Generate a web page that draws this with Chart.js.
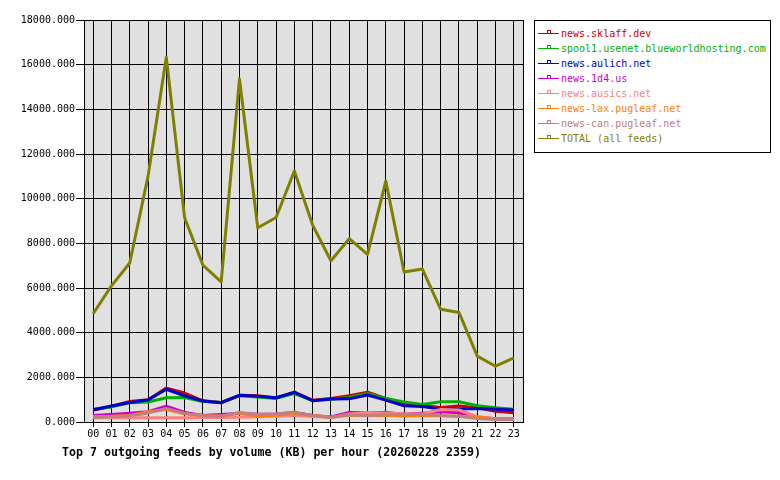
<!DOCTYPE html>
<html>
<head>
<meta charset="utf-8">
<script src="https://cdn.jsdelivr.net/npm/chart.js@4/dist/chart.umd.min.js"></script>
<style>
  html, body { margin: 0; padding: 0; background: #ffffff; }
  #wrap { position: relative; width: 780px; height: 480px; }
  #c { position: absolute; left: 0; top: 0; }
  #legend { position: absolute; left: 534px; top: 20px; width: 235px; height: 131px;
            border: 1px solid #000; background: #fff; font-family: "DejaVu Sans Mono", monospace; font-size: 10px; }
  .item { position: absolute; left: 0; height: 15px; width: 235px; }
  .ln { position: absolute; left: 3px; width: 21px; top: 7px; height: 0; border-top: 1px solid; }
  .mk { position: absolute; left: 12px; top: 4px; width: 2px; height: 2px; border: 1px solid; }
  .tx { position: absolute; left: 26px; top: 1px; line-height: 13px; white-space: nowrap; }
</style>
</head>
<body>
<div id="wrap">
  <canvas id="c" width="780" height="480"></canvas>
  <div id="legend"></div>
</div>
<script>
const hours = ["00","01","02","03","04","05","06","07","08","09","10","11","12","13","14","15","16","17","18","19","20","21","22","23"];
const seriesNames = ["news.sklaff.dev","spool1.usenet.blueworldhosting.com","news.aulich.net","news.1d4.us","news.ausics.net","news-lax.pugleaf.net","news-can.pugleaf.net","TOTAL (all feeds)"];
const sklaff = [540,700,920,1000,1520,1300,950,880,1200,1180,1080,1340,980,1060,1180,1340,1060,800,740,650,720,640,480,420];
const spool1 = [580,680,860,900,1090,1100,920,880,1180,1120,1060,1280,960,1020,1100,1280,1060,900,790,910,910,730,640,570];
const aulich = [550,716,880,985,1470,1180,940,865,1200,1160,1090,1330,955,1030,1040,1210,985,730,700,580,580,610,570,540];
const d14us = [290,340,390,460,716,430,290,340,400,350,360,430,300,230,430,420,430,350,400,460,420,200,150,150];
const ausics = [190,190,190,190,190,190,200,200,220,240,260,300,250,200,360,430,400,370,360,560,540,240,150,140];
const lax = [255,260,300,460,560,370,280,260,400,269,300,372,290,220,300,300,310,270,300,280,260,240,150,150];
const can = [210,240,280,400,612,390,283,269,433,343,358,433,298,210,330,283,330,343,343,300,260,164,119,120];
const total = [4850,6100,7120,11000,16330,9150,7030,6280,15360,8700,9160,11240,8820,7220,8210,7510,10790,6720,6850,5050,4910,2950,2500,2870];
const yTicks = [0,2000,4000,6000,8000,10000,12000,14000,16000,18000];
const titleText = "Top 7 outgoing feeds by volume (KB) per hour (20260228 2359)";

const colors = ["#cc0000","#00b000","#0000cc","#cc00cc","#ff8080","#ff8000","#c08080","#808000"];
const values = [sklaff, spool1, aulich, d14us, ausics, lax, can, total];

const mono = "'DejaVu Sans Mono', monospace";

const plotBg = {
  id: 'plotBg',
  beforeDraw(chart) {
    const {ctx, chartArea: a} = chart;
    ctx.save();
    ctx.fillStyle = '#e0e0e0';
    ctx.fillRect(a.left, a.top, a.right - a.left, a.bottom - a.top);
    ctx.restore();
  },
  afterDatasetsDraw(chart) {
    const {ctx, chartArea: a} = chart;
    ctx.save();
    ctx.strokeStyle = '#000';
    ctx.lineWidth = 1;
    ctx.strokeRect(Math.round(a.left) + 0.5, Math.round(a.top) + 0.5, Math.round(a.right - a.left), Math.round(a.bottom - a.top));
    ctx.restore();
  }
};

new Chart(document.getElementById('c'), {
  type: 'line',
  data: {
    labels: hours,
    datasets: values.map((v, i) => ({
      label: seriesNames[i],
      data: v,
      borderColor: colors[i],
      backgroundColor: colors[i],
      borderWidth: 3,
      borderJoinStyle: 'round',
      pointRadius: 0,
      tension: 0,
      fill: false,
      order: values.length - i
    }))
  },
  options: {
    responsive: false,
    animation: false,
    layout: { padding: { left: 20, right: 257, top: 20, bottom: 0 } },
    plugins: {
      legend: { display: false },
      tooltip: { enabled: false },
      title: {
        display: true,
        position: 'bottom',
        text: titleText,
        color: '#000',
        font: { family: mono, size: 11.6, weight: 'bold', lineHeight: 1.2 },
        padding: { top: 2, bottom: 20 }
      }
    },
    scales: {
      x: {
        offset: true,
        grid: { offset: false, color: '#000', lineWidth: 1, tickLength: 5, drawOnChartArea: true },
        border: { color: '#000', width: 1 },
        ticks: { color: '#000', font: { family: mono, size: 10 }, padding: 1, maxRotation: 0, autoSkip: false },
        afterFit(s) { s.height = 22; }
      },
      y: {
        min: 0, max: 18000,
        afterBuildTicks(s) { s.ticks = yTicks.map(v => ({ value: v })); },
        grid: { color: '#000', lineWidth: 1, tickLength: 8 },
        border: { color: '#000', width: 1 },
        ticks: { color: '#000', font: { family: mono, size: 10 }, padding: 1, callback: v => Number(v).toFixed(3) },
        afterFit(s) { s.width = 64; }
      }
    }
  },
  plugins: [plotBg]
});

const lg = document.getElementById('legend');
seriesNames.forEach((n, i) => {
  const d = document.createElement('div');
  d.className = 'item';
  d.style.top = (5 + 15 * i) + 'px';
  d.innerHTML = '<div class="ln" style="border-color:' + colors[i] + '"></div>' +
                '<div class="mk" style="border-color:' + colors[i] + '"></div>' +
                '<div class="tx" style="color:' + colors[i] + '"></div>';
  d.querySelector('.tx').textContent = n;
  lg.appendChild(d);
});
</script>
</body>
</html>
